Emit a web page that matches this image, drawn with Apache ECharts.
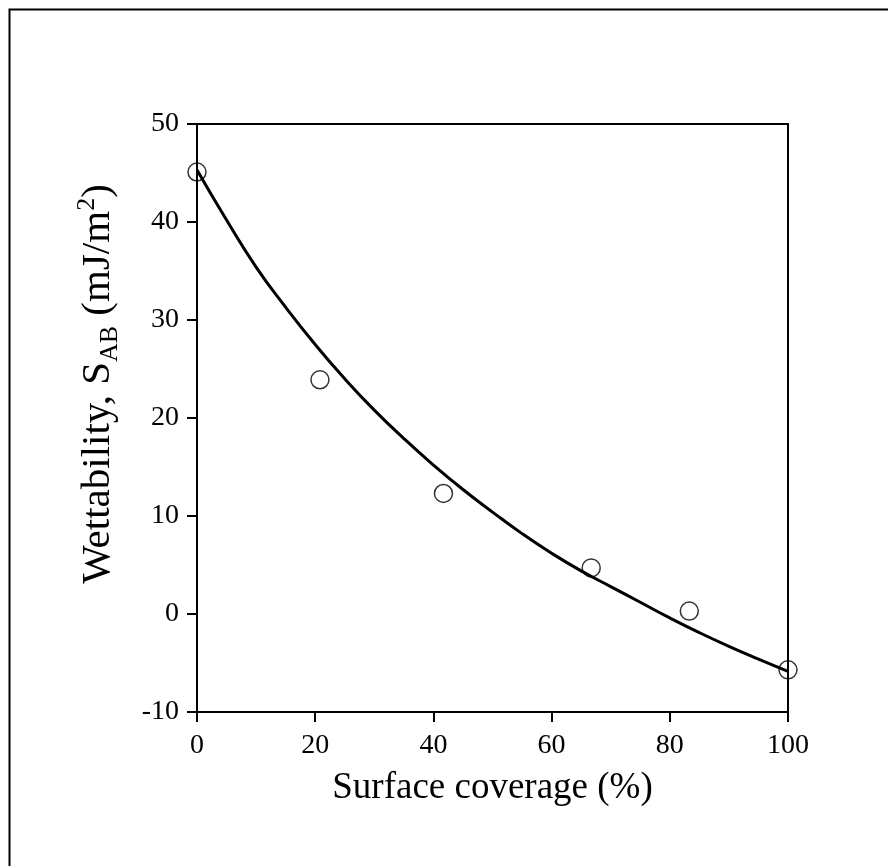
<!DOCTYPE html>
<html>
<head>
<meta charset="utf-8">
<script src="https://cdn.jsdelivr.net/npm/echarts@6/dist/echarts.min.js"></script>
<style>
  html, body { margin: 0; padding: 0; background: #fff; }
  #chart { width: 888px; height: 866px; }
</style>
</head>
<body>
<div id="chart"></div>
<script>
// Measured wettability against surface coverage
const coverage = [0, 20.8, 41.7, 66.7, 83.3, 100];
const wettability = [45.1, 23.9, 12.3, 4.7, 0.3, -5.7];

// Fitted decay curve, sampled every 5 %
const fitX = [0, 5, 10, 15, 20, 25, 30, 35, 40, 45, 50, 55, 60, 65, 70, 75, 80, 85, 90, 95, 100];
const fitY = [45.3, 40.2, 35.4, 31.3, 27.5, 24.0, 20.8, 17.9, 15.2, 12.7, 10.4, 8.2, 6.2, 4.4, 2.8, 1.2, -0.4, -1.9, -3.3, -4.6, -5.85];

// Axis ranges and tick spacing
const xRange = [0, 100, 20];
const yRange = [-10, 50, 10];

const FONT = '"Liberation Serif", "Times New Roman", serif';

const chart = echarts.init(document.getElementById('chart'), null, { renderer: 'canvas' });

const axisCommon = {
  axisLine: { show: true, onZero: false, lineStyle: { color: '#000', width: 2 } },
  axisTick: { show: true, inside: false, length: 10, lineStyle: { color: '#000', width: 2 } },
  splitLine: { show: false },
  axisLabel: { color: '#000', fontFamily: FONT, fontSize: 28 }
};

chart.setOption({
  backgroundColor: '#fff',
  animation: false,
  grid: { left: 197, right: 100, top: 124, bottom: 154, containLabel: false },
  xAxis: [
    Object.assign({}, axisCommon, {
      type: 'value', min: xRange[0], max: xRange[1], interval: xRange[2],
      position: 'bottom',
      axisLabel: Object.assign({}, axisCommon.axisLabel, { margin: 20 }),
      name: 'Surface coverage (%)', nameLocation: 'middle', nameGap: 58,
      nameTextStyle: { color: '#000', fontFamily: FONT, fontSize: 37 }
    }),
    {
      type: 'value', min: xRange[0], max: xRange[1], interval: xRange[2],
      position: 'top',
      axisLine: { show: true, onZero: false, lineStyle: { color: '#000', width: 2 } },
      axisTick: { show: false }, axisLabel: { show: false }, splitLine: { show: false }
    }
  ],
  yAxis: [
    Object.assign({}, axisCommon, {
      type: 'value', min: yRange[0], max: yRange[1], interval: yRange[2],
      position: 'left',
      axisLabel: Object.assign({}, axisCommon.axisLabel, { margin: 18 })
    }),
    {
      type: 'value', min: yRange[0], max: yRange[1], interval: yRange[2],
      position: 'right',
      axisLine: { show: true, onZero: false, lineStyle: { color: '#000', width: 2 } },
      axisTick: { show: false }, axisLabel: { show: false }, splitLine: { show: false }
    }
  ],
  graphic: [
    {
      type: 'rect', left: 7, top: 7, z: 0, silent: true,
      shape: { x: 0, y: 0, width: 900, height: 900 },
      style: { fill: 'none', stroke: '#000', lineWidth: 2 }
    },
    {
      type: 'text', x: 98, y: 384, rotation: Math.PI / 2, silent: true,
      style: {
        text: '{m|Wettability, S}{sub|AB}{m| (mJ/m}{sup|2}{m|)}',
        align: 'center', verticalAlign: 'middle',
        rich: {
          m: { fontFamily: FONT, fontSize: 41, fill: '#000', lineHeight: 58, verticalAlign: 'middle' },
          sub: { fontFamily: FONT, fontSize: 26, fill: '#000', lineHeight: 58, verticalAlign: 'bottom', padding: [0, 0, 4, 0] },
          sup: { fontFamily: FONT, fontSize: 26, fill: '#000', lineHeight: 58, verticalAlign: 'top', padding: [5, 0, 0, 0] }
        }
      }
    }
  ],
  series: [
    {
      type: 'scatter', xAxisIndex: 0, yAxisIndex: 0,
      data: coverage.map((x, i) => [x, wettability[i]]),
      symbol: 'circle', symbolSize: 18, z: 2,
      itemStyle: { color: 'rgba(255,255,255,0)', borderColor: '#000', borderWidth: 1.5 }
    },
    {
      type: 'line', xAxisIndex: 0, yAxisIndex: 0,
      data: fitX.map((x, i) => [x, fitY[i]]),
      smooth: true, showSymbol: false, z: 3,
      lineStyle: { color: '#000', width: 3 }
    }
  ]
});
</script>
</body>
</html>
